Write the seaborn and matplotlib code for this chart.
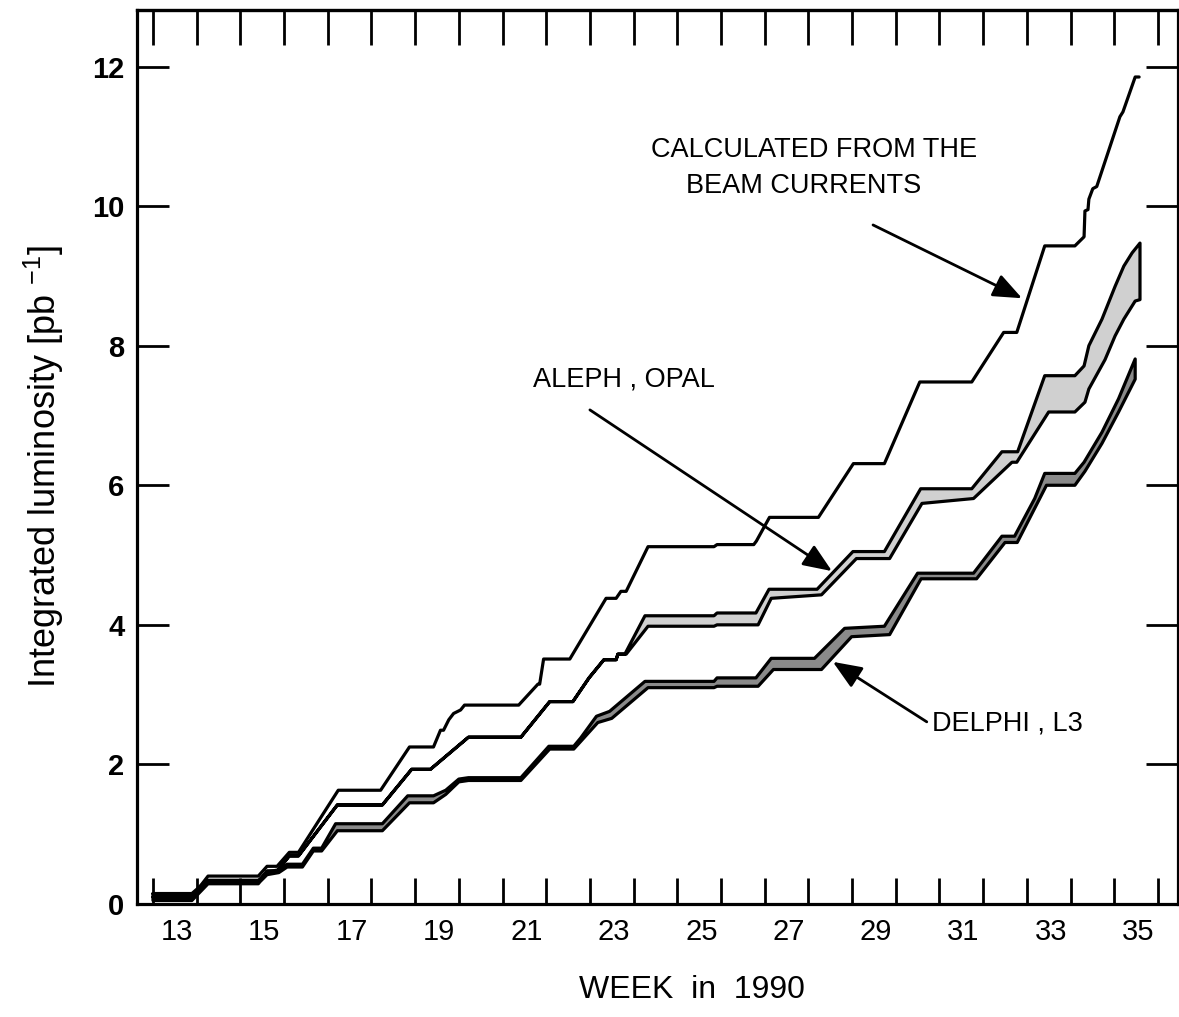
import numpy as np
import pandas as pd
import matplotlib
matplotlib.use("Agg")
import matplotlib.pyplot as plt
import seaborn as sns
from matplotlib.ticker import FixedLocator

# ---------------- data (week in 1990, integrated luminosity pb^-1) ----------------
beam_week = [13.00, 13.89, 14.26, 15.41, 15.61, 15.84, 16.12, 16.33, 17.24, 18.21,
             18.87, 19.42, 19.58, 19.65, 19.77, 19.88, 20.04, 20.13, 21.37, 21.81,
             21.85, 21.94, 22.54, 23.37, 23.60, 23.71, 23.83, 24.33, 25.84, 25.91,
             26.75, 26.81, 27.11, 28.23, 29.03, 29.74, 30.55, 31.74, 32.47, 32.77,
             33.41, 34.10, 34.31, 34.33, 34.40, 34.42, 34.51, 34.60, 35.13, 35.20,
             35.48, 35.57]
beam_lumi = [0.10, 0.10, 0.40, 0.40, 0.54, 0.54, 0.74, 0.74, 1.63, 1.63,
             2.25, 2.25, 2.49, 2.49, 2.64, 2.73, 2.78, 2.85, 2.85, 3.15,
             3.15, 3.51, 3.51, 4.38, 4.38, 4.48, 4.48, 5.12, 5.12, 5.15,
             5.15, 5.20, 5.54, 5.54, 6.31, 6.31, 7.48, 7.48, 8.19, 8.19,
             9.43, 9.43, 9.56, 9.93, 9.95, 10.10, 10.25, 10.28, 11.28, 11.35,
             11.85, 11.85]

# ALEPH , OPAL band
ao_upper_week = [13.00, 13.89, 14.24, 15.41, 15.61, 15.84, 16.12, 16.33, 17.22, 18.25,
                 18.92, 19.35, 20.22, 21.42, 22.08, 22.61, 22.98, 23.32, 23.60, 23.64,
                 23.80, 24.26, 25.84, 25.91, 26.80, 27.10, 28.20, 29.02, 29.74, 30.57,
                 31.74, 32.43, 32.79, 33.41, 34.10, 34.31, 34.42, 34.72, 35.02, 35.22,
                 35.41, 35.59]
ao_upper_lumi = [0.10, 0.10, 0.31, 0.31, 0.47, 0.47, 0.69, 0.69, 1.42, 1.42,
                 1.93, 1.93, 2.39, 2.39, 2.90, 2.90, 3.24, 3.50, 3.50, 3.58,
                 3.58, 4.13, 4.13, 4.17, 4.17, 4.51, 4.51, 5.05, 5.05, 5.95,
                 5.95, 6.48, 6.48, 7.57, 7.57, 7.71, 8.00, 8.38, 8.85, 9.14,
                 9.33, 9.47]
ao_lower_week = [13.00, 13.89, 14.24, 15.41, 15.61, 15.84, 16.12, 16.33, 17.22, 18.25,
                 18.92, 19.35, 20.22, 21.42, 22.08, 22.61, 22.98, 23.32, 23.60, 23.64,
                 23.83, 24.33, 25.84, 25.91, 26.85, 27.15, 28.30, 29.10, 29.86, 30.60,
                 31.78, 32.66, 32.77, 33.50, 34.10, 34.33, 34.42, 34.79, 35.02, 35.22,
                 35.48, 35.59]
ao_lower_lumi = [0.10, 0.10, 0.31, 0.31, 0.47, 0.47, 0.69, 0.69, 1.42, 1.42,
                 1.93, 1.93, 2.39, 2.39, 2.90, 2.90, 3.24, 3.50, 3.50, 3.58,
                 3.58, 3.98, 3.98, 4.00, 4.00, 4.38, 4.43, 4.95, 4.95, 5.74,
                 5.81, 6.33, 6.33, 7.05, 7.05, 7.19, 7.38, 7.80, 8.14, 8.38,
                 8.64, 8.66]

# DELPHI , L3 band
dl_upper_week = [13.00, 13.89, 14.24, 15.41, 15.45, 15.61, 15.88, 16.07, 16.42, 16.67,
                 16.86, 17.18, 18.25, 18.83, 19.42, 19.70, 20.00, 20.22, 21.42, 22.06,
                 22.63, 22.79, 23.15, 23.45, 24.26, 25.84, 25.91, 26.80, 27.15, 28.14,
                 28.83, 29.74, 30.50, 31.78, 32.43, 32.72, 33.18, 33.41, 34.10, 34.31,
                 34.72, 35.10, 35.48]
dl_upper_lumi = [0.15, 0.15, 0.34, 0.34, 0.36, 0.46, 0.49, 0.57, 0.57, 0.80,
                 0.80, 1.15, 1.15, 1.55, 1.55, 1.63, 1.79, 1.81, 1.81, 2.26,
                 2.26, 2.38, 2.69, 2.76, 3.19, 3.19, 3.24, 3.24, 3.52, 3.52,
                 3.95, 3.98, 4.74, 4.74, 5.27, 5.27, 5.81, 6.17, 6.17, 6.33,
                 6.76, 7.24, 7.81]
dl_lower_week = [13.00, 13.89, 14.26, 15.41, 15.45, 15.61, 15.88, 16.07, 16.42, 16.67,
                 16.86, 17.22, 18.25, 18.87, 19.42, 19.70, 20.00, 20.22, 21.42, 22.08,
                 22.63, 22.79, 23.18, 23.50, 24.33, 25.84, 25.91, 26.85, 27.20, 28.30,
                 28.99, 29.86, 30.58, 31.85, 32.50, 32.78, 33.45, 34.10, 34.33, 34.72,
                 35.10, 35.48]
dl_lower_lumi = [0.05, 0.05, 0.29, 0.29, 0.32, 0.42, 0.45, 0.53, 0.53, 0.76,
                 0.76, 1.05, 1.05, 1.45, 1.45, 1.57, 1.75, 1.77, 1.77, 2.22,
                 2.22, 2.33, 2.60, 2.66, 3.10, 3.10, 3.12, 3.12, 3.36, 3.36,
                 3.83, 3.86, 4.66, 4.66, 5.18, 5.18, 6.00, 6.00, 6.20, 6.60,
                 7.05, 7.52]

week_labels = [13, 15, 17, 19, 21, 23, 25, 27, 29, 31, 33, 35]
week_ticks = list(range(13, 37))
lumi_ticks = [0, 2, 4, 6, 8, 10, 12]

# ---------------- style ----------------
sns.set_theme(style="ticks")
plt.rcParams["font.family"] = ["Liberation Sans", "DejaVu Sans"]
plt.rcParams["mathtext.fontset"] = "custom"
plt.rcParams["mathtext.rm"] = "Liberation Sans"
plt.rcParams["mathtext.it"] = "Liberation Sans:italic"
plt.rcParams["mathtext.bf"] = "Liberation Sans:bold"
plt.rcParams["text.color"] = "black"
plt.rcParams["axes.labelcolor"] = "black"
plt.rcParams["xtick.color"] = "black"
plt.rcParams["ytick.color"] = "black"

W, H = 1179, 1017
fig = plt.figure(figsize=(W / 100, H / 100), dpi=100)
ax = fig.add_axes([137 / W, 113 / H, (1178 - 137) / W, (904 - 10) / H])

LW = 2.3

def band_outline(uw, ul, lw_, ll):
    xs = list(uw) + list(lw_)[::-1] + [uw[0]]
    ys = list(ul) + list(ll)[::-1] + [ul[0]]
    return xs, ys

# fills
ao_x, ao_y = band_outline(ao_upper_week, ao_upper_lumi, ao_lower_week, ao_lower_lumi)
dl_x, dl_y = band_outline(dl_upper_week, dl_upper_lumi, dl_lower_week, dl_lower_lumi)
ax.fill(ao_x, ao_y, facecolor="#d0d0d0", edgecolor="none", zorder=1)
ax.fill(dl_x, dl_y, facecolor="#8a8a8a", edgecolor="none", zorder=1)

# outlines via seaborn
frames = [
    pd.DataFrame({"week": beam_week, "lumi": beam_lumi, "curve": "beam"}),
    pd.DataFrame({"week": ao_x, "lumi": ao_y, "curve": "aleph_opal"}),
    pd.DataFrame({"week": dl_x, "lumi": dl_y, "curve": "delphi_l3"}),
]
df = pd.concat(frames, ignore_index=True)
sns.lineplot(data=df, x="week", y="lumi", units="curve", estimator=None,
             sort=False, color="black", linewidth=LW, ax=ax, zorder=3,
             legend=False)

# axes limits and ticks
ax.set_xlim(12.634, 36.46)
ax.set_ylim(0, 12.81)

ax.xaxis.set_major_locator(FixedLocator([w + 0.55 for w in week_labels]))
ax.set_xticklabels([str(w) for w in week_labels])
ax.xaxis.set_minor_locator(FixedLocator(week_ticks))
ax.tick_params(axis="x", which="major", length=0, pad=10, labelsize=21)
ax.tick_params(axis="x", which="minor", direction="in", length=19, width=2.0,
               bottom=True, top=False)

sec = ax.secondary_xaxis("top")
sec.set_xticks(week_ticks)
sec.set_xticklabels([])
sec.tick_params(axis="x", direction="in", length=25, width=2.0)
sec.spines["top"].set_linewidth(LW)

ax.set_yticks(lumi_ticks)
ax.set_yticklabels([str(v) for v in lumi_ticks], fontweight="bold")
ax.tick_params(axis="y", which="major", direction="in", length=23, width=2.0,
               left=True, right=True, labelsize=21, pad=9)

for s in ax.spines.values():
    s.set_linewidth(LW)
    s.set_color("black")
    s.set_visible(True)

ax.set_xlabel("WEEK  in  1990", fontsize=23)
ax.xaxis.set_label_coords(0.533, -0.079)
ax.set_ylabel("Integrated luminosity [pb $^{-1}$]", fontsize=26)
ax.yaxis.set_label_coords(-0.068, 0.489)

# annotations
arrow = dict(arrowstyle="-|>,head_length=1.1,head_width=0.45", color="black",
             lw=2.0, shrinkA=0, shrinkB=0, mutation_scale=16)
ax.annotate("", xy=(32.89, 8.68), xytext=(29.48, 9.73), arrowprops=arrow)
ax.text(28.13, 10.80, "CALCULATED FROM THE", fontsize=19.5, ha="center", va="center")
ax.text(27.90, 10.29, "BEAM CURRENTS", fontsize=19.5, ha="center", va="center")

ax.annotate("", xy=(28.54, 4.77), xytext=(23.0, 7.08), arrowprops=arrow)
ax.text(23.78, 7.51, "ALEPH , OPAL", fontsize=19.5, ha="center", va="center")

ax.annotate("", xy=(28.56, 3.47), xytext=(30.71, 2.61), arrowprops=arrow)
ax.text(30.83, 2.59, "DELPHI , L3", fontsize=19.5, ha="left", va="center")

fig.savefig("out.png", dpi=100, facecolor="white")
